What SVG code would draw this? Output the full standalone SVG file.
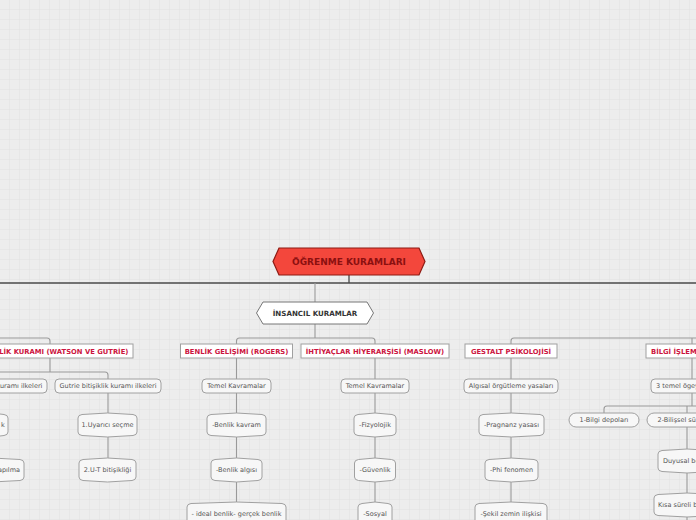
<svg xmlns="http://www.w3.org/2000/svg" width="696" height="520" viewBox="0 0 696 520">
<defs>
<pattern id="grid" width="10" height="10" patternUnits="userSpaceOnUse">
<rect width="10" height="10" fill="#ededed"/>
<path d="M10,0 V10 M0,10 H10" fill="none" stroke="#e2e2e2" stroke-width="1"/>
</pattern>
<style>
.bus{fill:none;stroke:#4a4a4a;stroke-width:1.3}
.ln{fill:none;stroke:#9a9a9a;stroke-width:1.1}
.t2{fill:#fff;stroke:#a0a0a0;stroke-width:1}
.t3{fill:#f7f7f7;stroke:#a0a0a0;stroke-width:1}
.b2{font-family:"DejaVu Sans",Verdana,sans-serif;font-weight:bold;font-size:6.8px;fill:#cc1440;text-anchor:middle}
.b3{font-family:"DejaVu Sans",Verdana,sans-serif;font-size:6.5px;fill:#555;text-anchor:middle}
.st{text-anchor:start}
.en{text-anchor:end}
</style>
</defs>
<rect width="696" height="520" fill="url(#grid)"/>

<g id="connectors">
<path class="bus" d="M349,275 V283 M0,283 H696"/>
<path class="ln" stroke="#777" d="M315,283 V302"/>
<path class="ln" d="M315,324 V338 M236.5,344 V341 Q236.5,338 239.5,338 H372 Q375,338 375,341 V344"/>
<path class="ln" d="M0,338 H47 Q50,338 50,341 V344"/>
<path class="ln" d="M696,338 H514 Q511,338 511,341 V344 M692,338 V344"/>
<path class="ln" d="M50,358 V372 M0,372 H105 Q108,372 108,375 V379 M108,393 V413 M108,437 V458"/>
<path class="ln" d="M236.5,358 V379 M236.5,393 V413 M236.5,437 V458 M236.5,482 V502"/>
<path class="ln" d="M375,358 V379 M375,393 V413 M375,437 V458 M375,482 V502"/>
<path class="ln" d="M511,358 V379 M511,393 V413 M511,437 V458 M511,482 V502"/>
<path class="ln" d="M692,358 V379 M692,393 V406 M604,413 V409 Q604,406 607,406 H696 M687,406 V413 M687,427 V449 M687,473 V493 M687,517 V520"/>
</g>

<g id="root">
<polygon points="273,261.5 279,248 419,248 425,261.5 419,275 279,275" fill="#f3473c" stroke="#8e1b13" stroke-width="1.2"/>
<text x="349" y="265" font-family="'DejaVu Sans',Verdana,sans-serif" font-weight="bold" font-size="9" fill="#8b1010" text-anchor="middle">ÖĞRENME KURAMLARI</text>
</g>

<g id="insancil">
<polygon points="256.5,313 263,302 367,302 373.5,313 367,324 263,324" fill="#fff" stroke="#777" stroke-width="1"/>
<text x="315" y="315.5" font-family="'DejaVu Sans',Verdana,sans-serif" font-weight="bold" font-size="7.1" fill="#333" text-anchor="middle">İNSANCIL KURAMLAR</text>
</g>

<g id="bitisiklik">
<rect class="t2" x="-33" y="344" width="166" height="14"/>
<text class="b2" x="50" y="353.5">BİTİŞİKLİK KURAMI (WATSON VE GUTRİE)</text>
</g>
<g id="benlik">
<rect class="t2" x="180.5" y="344" width="112" height="14"/>
<text class="b2" x="236.5" y="353.5">BENLİK GELİŞİMİ (ROGERS)</text>
</g>
<g id="ihtiyaclar">
<rect class="t2" x="301" y="344" width="148" height="14"/>
<text class="b2" x="375" y="353.5">İHTİYAÇLAR HİYERARŞİSİ (MASLOW)</text>
</g>
<g id="gestalt">
<rect class="t2" x="465" y="344" width="92" height="14"/>
<text class="b2" x="511" y="353.5">GESTALT PSİKOLOJİSİ</text>
</g>
<g id="bilgi">
<rect class="t2" x="646" y="344" width="92" height="14"/>
<text class="b2 st" x="651" y="353.5">BİLGİ İŞLEM</text>
</g>

<g id="watson-ilke">
<rect class="t3" x="-63" y="379" width="110" height="14" rx="4"/>
<text class="b3" x="-8" y="388.3">Watson bitişiklik kuramı ilkeleri</text>
</g>
<g id="gutrie-ilke">
<rect class="t3" x="55" y="379" width="106" height="14" rx="4"/>
<text class="b3" x="108" y="388.3">Gutrie bitişiklik kuramı ilkeleri</text>
</g>
<g id="benlik-temel">
<rect class="t3" x="202" y="379" width="69" height="14" rx="4"/>
<text class="b3" x="236.5" y="388.3">Temel Kavramalar</text>
</g>
<g id="ihtiyac-temel">
<rect class="t3" x="341" y="379" width="68" height="14" rx="4"/>
<text class="b3" x="375" y="388.3">Temel Kavramalar</text>
</g>
<g id="algisal">
<rect class="t3" x="464" y="379" width="94" height="14" rx="4"/>
<text class="b3" x="511" y="388.3">Algısal örgütleme yasaları</text>
</g>
<g id="uc-temel">
<rect class="t3" x="651" y="379" width="82" height="14" rx="4"/>
<text class="b3 st" x="656" y="388.3">3 temel ögey</text>
</g>
<g id="bilgi-depo">
<rect class="t3" x="569" y="413" width="70" height="14" rx="7"/>
<text class="b3" x="604" y="422.3">1-Bilgi depoları</text>
</g>
<g id="bilissel">
<rect class="t3" x="647" y="413" width="80" height="14" rx="7"/>
<text class="b3 st" x="657.5" y="422.3">2-Bilişsel sü</text>
</g>

<g id="w1">
<path class="t3" d="M-24,418 Q-24,415 -20,414.5 Q-8,411.5 4,414.5 Q8,415 8,418 V432 Q8,435 4,435.5 Q-8,438.5 -20,435.5 Q-24,435 -24,432 Z"/>
<text class="b3 en" x="4.7" y="427.3">k</text>
</g>
<g id="w2">
<path class="t3" d="M-40,463 Q-40,460 -36,459.5 Q-8,456.5 20,459.5 Q24,460 24,463 V477 Q24,480 20,480.5 Q-8,483.5 -36,480.5 Q-40,480 -40,477 Z"/>
<text class="b3 en" x="20" y="472.3">apılma</text>
</g>
<g id="g1">
<path class="t3" d="M78,418 Q78,415 82,414.5 Q107.5,411.5 133,414.5 Q137,415 137,418 V432 Q137,435 133,435.5 Q107.5,438.5 82,435.5 Q78,435 78,432 Z"/>
<text class="b3" x="107.5" y="427.3">1.Uyarıcı seçme</text>
</g>
<g id="g2">
<path class="t3" d="M79,463 Q79,460 83,459.5 Q107.5,456.5 132,459.5 Q136,460 136,463 V477 Q136,480 132,480.5 Q107.5,483.5 83,480.5 Q79,480 79,477 Z"/>
<text class="b3" x="107.5" y="472.3">2.U-T bitişikliği</text>
</g>
<g id="bk1">
<path class="t3" d="M207,418 Q207,415 211,414.5 Q236.5,411.5 262,414.5 Q266,415 266,418 V432 Q266,435 262,435.5 Q236.5,438.5 211,435.5 Q207,435 207,432 Z"/>
<text class="b3" x="236.5" y="427.3">-Benlik kavram</text>
</g>
<g id="bk2">
<path class="t3" d="M211,463 Q211,460 215,459.5 Q236.5,456.5 258,459.5 Q262,460 262,463 V477 Q262,480 258,480.5 Q236.5,483.5 215,480.5 Q211,480 211,477 Z"/>
<text class="b3" x="236.5" y="472.3">-Benlik algısı</text>
</g>
<g id="bk3">
<path class="t3" d="M187,507 Q187,504 191,503.5 Q236.5,500.5 282,503.5 Q286,504 286,507 V521 Q286,524 282,524.5 Q236.5,527.5 191,524.5 Q187,524 187,521 Z"/>
<text class="b3" x="236.5" y="516.3">- ideal benlik- gerçek benlik</text>
</g>
<g id="ih1">
<path class="t3" d="M354,418 Q354,415 358,414.5 Q375,411.5 392,414.5 Q396,415 396,418 V432 Q396,435 392,435.5 Q375,438.5 358,435.5 Q354,435 354,432 Z"/>
<text class="b3" x="375" y="427.3">-Fizyolojik</text>
</g>
<g id="ih2">
<path class="t3" d="M354.5,463 Q354.5,460 358.5,459.5 Q375,456.5 391.5,459.5 Q395.5,460 395.5,463 V477 Q395.5,480 391.5,480.5 Q375,483.5 358.5,480.5 Q354.5,480 354.5,477 Z"/>
<text class="b3" x="375" y="472.3">-Güvenlik</text>
</g>
<g id="ih3">
<path class="t3" d="M358,507 Q358,504 362,503.5 Q375,500.5 388,503.5 Q392,504 392,507 V521 Q392,524 388,524.5 Q375,527.5 362,524.5 Q358,524 358,521 Z"/>
<text class="b3" x="375" y="516.3">-Sosyal</text>
</g>
<g id="gs1">
<path class="t3" d="M479,418 Q479,415 483,414.5 Q511.5,411.5 540,414.5 Q544,415 544,418 V432 Q544,435 540,435.5 Q511.5,438.5 483,435.5 Q479,435 479,432 Z"/>
<text class="b3" x="511.5" y="427.3">-Pragnanz yasası</text>
</g>
<g id="gs2">
<path class="t3" d="M485,463 Q485,460 489,459.5 Q511.5,456.5 534,459.5 Q538,460 538,463 V477 Q538,480 534,480.5 Q511.5,483.5 489,480.5 Q485,480 485,477 Z"/>
<text class="b3" x="511.5" y="472.3">-Phi fenomen</text>
</g>
<g id="gs3">
<path class="t3" d="M475,507 Q475,504 479,503.5 Q511,500.5 543,503.5 Q547,504 547,507 V521 Q547,524 543,524.5 Q511,527.5 479,524.5 Q475,524 475,521 Z"/>
<text class="b3" x="511" y="516.3">-Şekil zemin ilişkisi</text>
</g>
<g id="duyusal">
<path class="t3" d="M658,454 Q658,451 662,450.5 Q687,447.5 712,450.5 Q716,451 716,454 V468 Q716,471 712,471.5 Q687,474.5 662,471.5 Q658,471 658,468 Z"/>
<text class="b3 st" x="663" y="463.3">Duyusal be</text>
</g>
<g id="kisa">
<path class="t3" d="M654,498 Q654,495 658,494.5 Q687,491.5 716,494.5 Q720,495 720,498 V512 Q720,515 716,515.5 Q687,518.5 658,515.5 Q654,515 654,512 Z"/>
<text class="b3 st" x="658" y="507.3">Kısa süreli b</text>
</g>
</svg>
